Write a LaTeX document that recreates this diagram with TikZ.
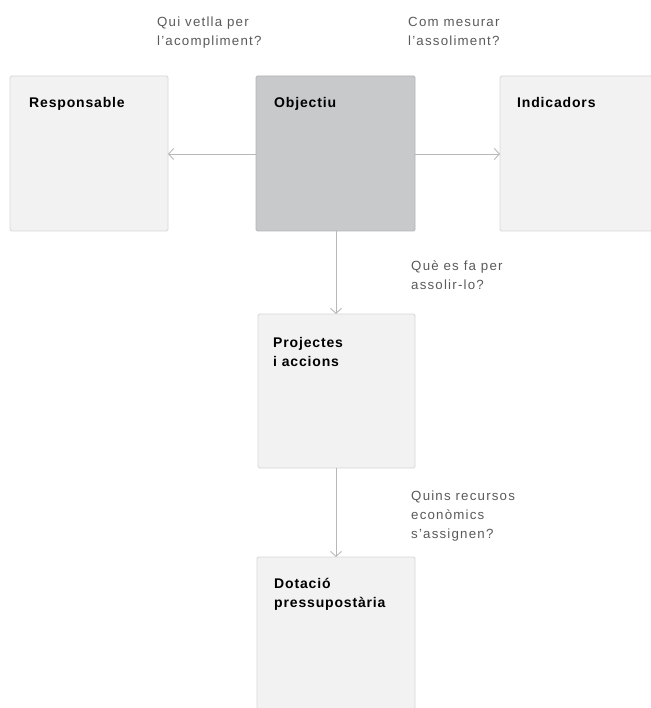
\documentclass[tikz,border=0pt]{standalone}
\usepackage{fontspec}
\setmainfont{Liberation Sans}
\newfontfamily\titfont{Liberation Sans}[LetterSpace=6]
\newfontfamily\labfont{Liberation Sans}[LetterSpace=9]
\usetikzlibrary{arrows.meta}
\definecolor{boxfill}{HTML}{F2F2F2}
\definecolor{boxline}{HTML}{D6D6D6}
\definecolor{mainfill}{HTML}{C8C9CB}
\definecolor{mainline}{HTML}{B4B4B6}
\definecolor{conn}{HTML}{B8B8B8}
\definecolor{labtext}{HTML}{5A5A5A}
\begin{document}
\begin{tikzpicture}[x=1pt,y=-1pt,
  box/.style={draw=boxline,fill=boxfill,line width=0.8pt,rounded corners=1.5pt},
  mainbox/.style={draw=mainline,fill=mainfill,line width=0.8pt,rounded corners=1.5pt},
  title/.style={anchor=base west,inner sep=0pt,font=\titfont\bfseries\fontsize{14}{18.5}\selectfont,align=left},
  qlabel/.style={anchor=base west,inner sep=0pt,text=labtext,font=\labfont\fontsize{13.3}{19}\selectfont,align=left},
  conn/.style={draw=conn,line width=0.9pt,-{Straight Barb[length=5pt,width=11pt]}}]
\useasboundingbox (0,0) rectangle (650,708);
% boxes
\draw[box] (10,76) rectangle (168,231);
\draw[mainbox] (256,76) rectangle (415,231);
\draw[box] (500,76) rectangle (652,231);
\draw[box] (258,314) rectangle (415,468);
\draw[box] (257,557) rectangle (415,712);
% named anchor coordinates
\coordinate (respE) at (168,154);
\coordinate (objW) at (256,154);
\coordinate (objE) at (415,154);
\coordinate (objS) at (336,231);
\coordinate (indW) at (500,154);
\coordinate (prjN) at (336,314);
\coordinate (prjS) at (336,468);
\coordinate (dotN) at (336,557);
% titles (anchored at the baseline of the last line)
\node[title] (tResp) at (29,108) {Responsable};
\node[title] (tObj) at (274,108) {Objectiu};
\node[title] (tInd) at (517,108) {Indicadors};
\node[title] (tPrj) at (273,366) {Projectes\\i accions};
\node[title] (tDot) at (274,607) {Dotació\\pressupostària};
% question labels (anchored at the baseline of the last line)
\node[qlabel] (q1) at (157,46) {Qui vetlla per\\l’acompliment?};
\node[qlabel] (q2) at (408,46) {Com mesurar\\l’assoliment?};
\node[qlabel] (q3) at (411,289) {Què es fa per\\assolir-lo?};
\node[qlabel] (q4) at (411,538) {Quins recursos\\econòmics\\s’assignen?};
% connectors
\draw[conn] (objW) -- (respE);
\draw[conn] (objE) -- (indW);
\draw[conn] (objS) -- (prjN);
\draw[conn] (prjS) -- (dotN);
\end{tikzpicture}
\end{document}
